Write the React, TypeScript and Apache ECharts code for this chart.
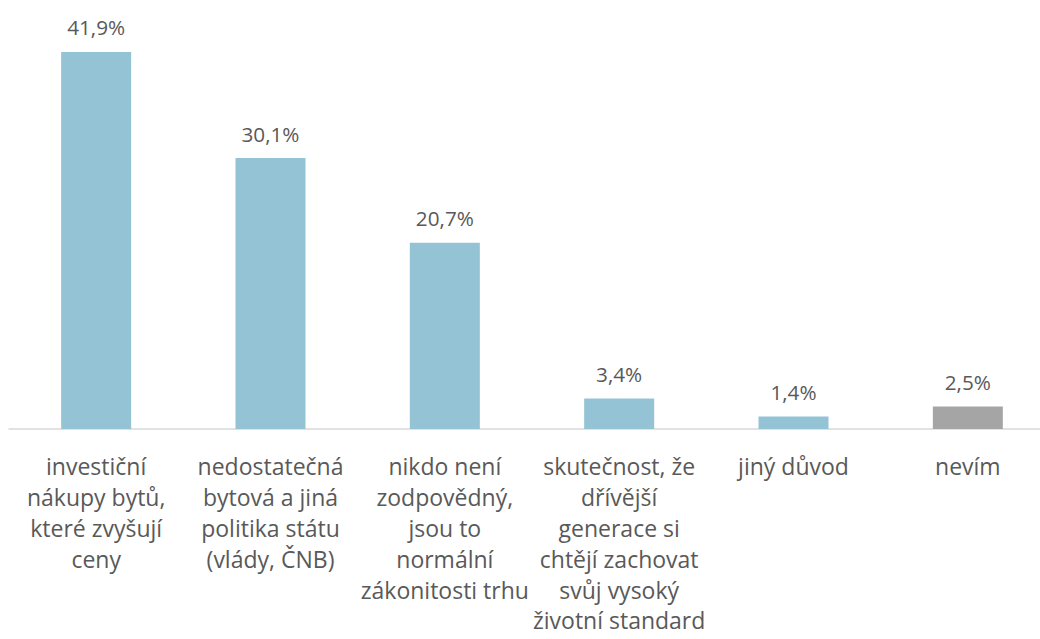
import React, { useEffect, useRef } from "react";
import * as echarts from "echarts";

const categories = [
  "investiční\nnákupy bytů,\nkteré zvyšují\nceny",
  "nedostatečná\nbytová a jiná\npolitika státu\n(vlády, ČNB)",
  "nikdo není\nzodpovědný,\njsou to\nnormální\nzákonitosti trhu",
  "skutečnost, že\ndřívější\ngenerace si\nchtějí zachovat\nsvůj vysoký\nživotní standard",
  "jiný důvod",
  "nevím",
];
const values = [41.9, 30.1, 20.7, 3.4, 1.4, 2.5];
const barColors = ["#93c3d5", "#93c3d5", "#93c3d5", "#93c3d5", "#93c3d5", "#a5a5a5"];

export default function App() {
  const ref = useRef<HTMLDivElement>(null);
  useEffect(() => {
    if (!ref.current) return;
    const chart = echarts.init(ref.current, null, { renderer: "svg" });
    chart.setOption({
      animation: false,
      grid: { left: 9, right: 1, top: 24, bottom: 210, containLabel: false },
      xAxis: {
        type: "category",
        data: categories,
        axisTick: { show: false },
        axisLine: { lineStyle: { color: "#d9d9d9", width: 1.5 } },
        axisLabel: {
          interval: 0,
          color: "#595959",
          fontFamily: "Open Sans",
          fontSize: 23,
          lineHeight: 30.8,
          margin: 22,
        },
      },
      yAxis: { type: "value", min: 0, max: 45, show: false, splitLine: { show: false } },
      series: [
        {
          type: "bar",
          barWidth: 70,
          data: values.map((v, i) => ({ value: v, itemStyle: { color: barColors[i] } })),
          label: {
            show: true,
            position: "top",
            distance: 14,
            color: "#595959",
            fontFamily: "Open Sans",
            fontSize: 20.7,
            formatter: (p: any) => p.value.toFixed(1).replace(".", ",") + "%",
          },
        },
      ],
    });
    return () => chart.dispose();
  }, []);
  return (
    <div style={{ position: "fixed", left: 0, top: 0, width: 1040, height: 639, overflow: "hidden", background: "#fff" }}>
      <div ref={ref} style={{ width: 1056, height: 639 }} />
    </div>
  );
}
